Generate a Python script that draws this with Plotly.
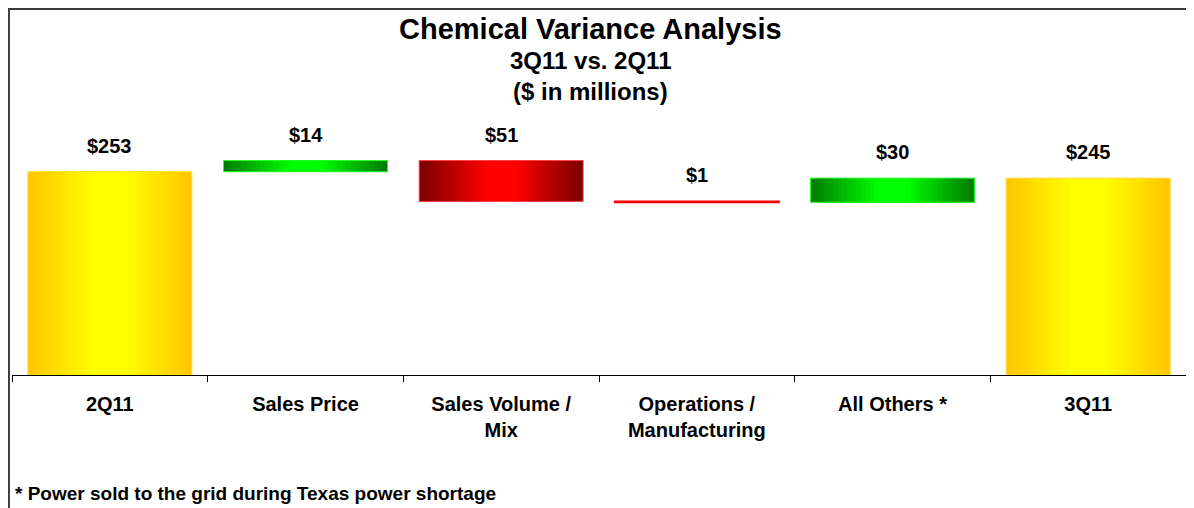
"""
Chemical variance waterfall, 3Q11 vs 2Q11 — Plotly recreation.
Gradient fills are approximated by stacking narrower bars on top of each other.
"""
import plotly.graph_objects as go

# ── Data ────────────────────────────────────────────────────────────────────
categories = ["2Q11", "Sales Price", "Sales Volume /<br>Mix",
              "Operations /<br>Manufacturing", "All Others *", "3Q11"]
values = [253, 14, -51, -1, 30, 245]
kinds = ["total", "delta", "delta", "delta", "delta", "total"]
footnote = "* Power sold to the grid during Texas power shortage"
title_lines = ["Chemical Variance Analysis", "3Q11 vs. 2Q11", "($ in millions)"]

# ── Styling ─────────────────────────────────────────────────────────────────
FONT = "Arial, Liberation Sans, sans-serif"
BAR_W = 0.838
N_LAYERS = 18
PALETTE = {
    # edge colour, centre colour, outline colour
    "total": ((255, 198, 0), (255, 255, 0), "#FFE033"),
    "up": ((0, 125, 0), (0, 255, 0), "#22FF22"),
    "down": ((125, 0, 0), (255, 0, 0), "#FF4444"),
}

# waterfall geometry
bases, heights, tops, kind_of = [], [], [], []
level = 0
for v, k in zip(values, kinds):
    if k == "total":
        bases.append(0)
        heights.append(v)
        level = v
        kind_of.append("total")
    else:
        bases.append(level)
        heights.append(v)
        kind_of.append("up" if v >= 0 else "down")
        level += v
    tops.append(max(bases[-1], bases[-1] + heights[-1]))


def mix(a, b, t):
    return "rgb({},{},{})".format(*[round(a[i] + (b[i] - a[i]) * t) for i in range(3)])


fig = go.Figure()

for k in range(N_LAYERS):
    t = min(1.0, k / (N_LAYERS * 0.8))
    fig.add_trace(go.Bar(
        x=categories, y=heights, base=bases,
        width=BAR_W * (1 - k / N_LAYERS),
        marker=dict(color=[mix(PALETTE[c][0], PALETTE[c][1], t) for c in kind_of],
                    line=dict(width=0)),
        showlegend=False, hoverinfo="skip",
    ))

# outline on top (thin deltas get a heavier stroke so they read as a line)
fig.add_trace(go.Bar(
    x=categories, y=heights, base=bases, width=BAR_W,
    marker=dict(color="rgba(0,0,0,0)",
                line=dict(width=[2 if abs(v) < 3 else 1 for v in values],
                          color=["#FF0000" if abs(v) < 3 else PALETTE[c][2]
                                 for v, c in zip(values, kind_of)])),
    showlegend=False, hoverinfo="skip",
))

# value labels
for cat, v, top in zip(categories, values, tops):
    fig.add_annotation(
        x=cat, y=top, text=f"${abs(v)}", showarrow=False,
        yanchor="middle", yshift=26,
        font=dict(family=FONT, size=20, color="black", weight="bold"),
    )

# title (three lines)
for txt, y, size in zip(title_lines, [1.436, 1.303, 1.178], [29, 24, 24]):
    fig.add_annotation(
        xref="paper", yref="paper", x=0.493, y=y, text=txt, showarrow=False,
        yanchor="middle", font=dict(family=FONT, size=size, color="black", weight="bold"),
    )

fig.add_annotation(
    xref="paper", yref="paper", x=0.001, y=-0.49, text=footnote, showarrow=False,
    xanchor="left", yanchor="middle",
    font=dict(family=FONT, size=19, color="black", weight="bold"),
)

# frame around the whole chart
fig.add_shape(
    type="rect", xref="paper", yref="paper",
    x0=-0.0026, x1=1.0043, y0=-0.62, y1=1.519,
    line=dict(color="#3c3c3c", width=2), fillcolor="rgba(0,0,0,0)",
)

# the page adds an 8px body margin, so the figure is drawn 8px smaller
fig.update_layout(
    barmode="overlay",
    width=1186, height=500,
    margin=dict(l=4, r=8, t=126, b=133),
    plot_bgcolor="white", paper_bgcolor="white",
    font=dict(family=FONT, color="black"),
)
fig.update_xaxes(
    type="category", range=[-0.5, 5.5],
    showline=True, linecolor="black", linewidth=1,
    ticks="outside", tickson="boundaries", ticklen=6, tickcolor="black",
    ticklabelstandoff=11,
    tickfont=dict(family=FONT, size=20, color="black", weight="bold"),
    showgrid=False, zeroline=False,
)
fig.update_yaxes(range=[0, 300], visible=False, showgrid=False)

fig.write_html("out.html")
